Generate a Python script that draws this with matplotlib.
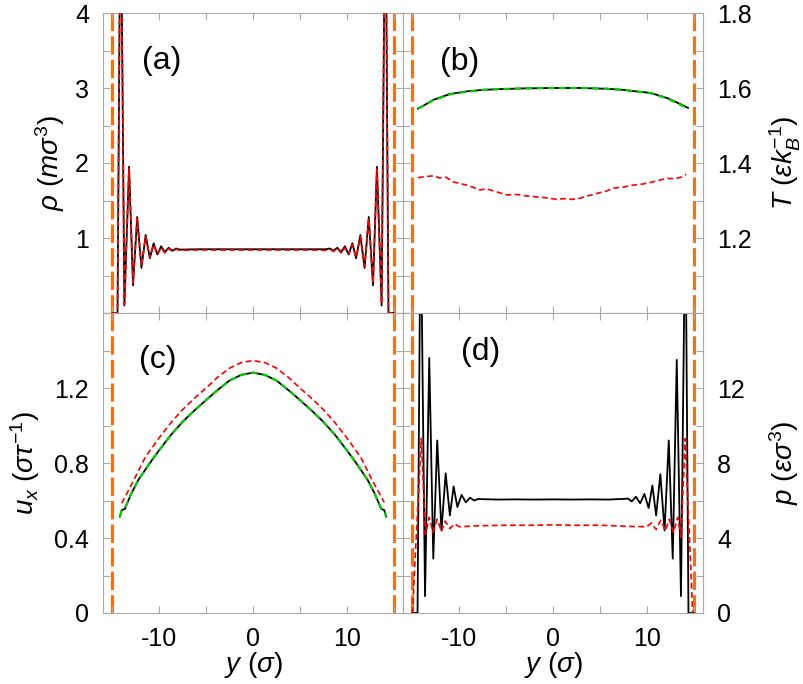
import numpy as np
import matplotlib.pyplot as plt

plt.rcParams['font.family'] = 'Liberation Sans'
plt.rcParams['mathtext.fontset'] = 'custom'
plt.rcParams['mathtext.rm'] = 'Liberation Sans'
plt.rcParams['mathtext.it'] = 'Liberation Sans:italic'
plt.rcParams['axes.unicode_minus'] = False

# wall positions (sigma)
walls = [-15.0, 15.0]

# (a) density
rho_y = [-15.0, -14.45, -14.12, -13.72, -13.22, -12.8, -12.35, -11.9, -11.45, -11.0,
         -10.6, -10.2, -9.8, -9.4, -9.0, -8.6, -8.2, -7.8, -6.0, -4.0, -2.0, 0.0,
         2.0, 4.0, 6.0, 7.8, 8.2, 8.6, 9.0, 9.4, 9.8, 10.2, 10.6, 11.0, 11.45,
         11.9, 12.35, 12.8, 13.22, 13.72, 14.12, 14.45, 15.0]
rho_md = [0.0, 0.0, 6.0, 0.10, 1.95, 0.37, 1.28, 0.60, 1.04, 0.73,
          0.93, 0.78, 0.89, 0.81, 0.87, 0.83, 0.86, 0.845, 0.85, 0.85, 0.85, 0.85,
          0.85, 0.85, 0.85, 0.85, 0.86, 0.83, 0.87, 0.81, 0.89, 0.78, 0.93, 0.73, 1.04,
          0.60, 1.28, 0.37, 1.95, 0.10, 6.0, 0.0, 0.0]
rho_sim = [0.0, 0.0, 6.0, 0.12, 1.92, 0.40, 1.26, 0.62, 1.02, 0.74,
           0.91, 0.78, 0.87, 0.80, 0.86, 0.82, 0.85, 0.835, 0.84, 0.84, 0.84, 0.84,
           0.84, 0.84, 0.84, 0.835, 0.85, 0.82, 0.86, 0.80, 0.87, 0.78, 0.91, 0.74, 1.02,
           0.62, 1.26, 0.40, 1.92, 0.12, 6.0, 0.0, 0.0]

# (b) temperature
T_y = [-14.4, -13.6, -12.8, -11.0, -9.2, -7.5, -5.7, -3.0, 0.0, 3.0, 5.7, 7.5, 9.2,
       10.4, 12.2, 13.6, 14.4]
T_md = [1.545, 1.556, 1.568, 1.584, 1.591, 1.595, 1.597, 1.599, 1.600, 1.600, 1.598,
        1.595, 1.590, 1.587, 1.573, 1.557, 1.547]
T_th = [1.545, 1.555, 1.567, 1.583, 1.590, 1.595, 1.597, 1.599, 1.600, 1.600, 1.598,
        1.595, 1.590, 1.586, 1.572, 1.555, 1.545]
Tsim_y = [-14.4, -13.5, -12.7, -12.1, -11.4, -10.7, -9.9, -9.2, -8.5, -7.8, -7.1, -6.4,
          -5.6, -4.9, -3.8, -2.8, -1.9, -1.0, 0.4, 1.2, 2.1, 2.9, 3.6, 4.3, 5.0, 5.7,
          6.4, 7.4, 8.5, 9.6, 10.7, 11.5, 12.2, 13.0, 13.8, 14.2]
Tsim = [1.361, 1.364, 1.366, 1.360, 1.362, 1.350, 1.345, 1.341, 1.335, 1.328, 1.331, 1.326,
        1.320, 1.315, 1.316, 1.312, 1.310, 1.308, 1.303, 1.305, 1.303, 1.306, 1.312, 1.316,
        1.321, 1.325, 1.333, 1.335, 1.341, 1.344, 1.350, 1.355, 1.359, 1.358, 1.363, 1.370]

# (c) streaming velocity
u_y = [-14.2, -14.0, -13.66, -13.5, -12.95, -12.24, -11.0, -10.0, -8.75, -7.5, -6.25,
       -5.0, -3.75, -2.5, -1.25, 0.0, 1.25, 2.5, 3.75, 5.0, 6.25, 7.5, 8.75, 10.0, 11.0,
       12.24, 12.95, 13.5, 13.66, 14.0, 14.2]
u_md = [0.514, 0.549, 0.555, 0.576, 0.640, 0.709, 0.800, 0.869, 0.950, 1.020, 1.080,
        1.136, 1.190, 1.240, 1.270, 1.282, 1.270, 1.240, 1.190, 1.136, 1.080, 1.020, 0.950,
        0.869, 0.800, 0.709, 0.640, 0.576, 0.555, 0.549, 0.514]
u_th = [0.514, 0.546, 0.560, 0.578, 0.640, 0.709, 0.800, 0.869, 0.950, 1.020, 1.080,
        1.136, 1.190, 1.240, 1.270, 1.282, 1.270, 1.240, 1.190, 1.136, 1.080, 1.020, 0.950,
        0.869, 0.800, 0.709, 0.640, 0.578, 0.560, 0.546, 0.514]
usim_y = [-14.0, -12.8, -11.5, -10.0, -8.75, -7.5, -6.25, -5.0, -3.75, -2.5, -1.25, 0.0,
          1.25, 2.5, 3.75, 5.0, 6.25, 7.5, 8.75, 10.0, 11.5, 12.8, 14.0]
usim = [0.585, 0.700, 0.830, 0.935, 1.015, 1.085, 1.145, 1.200, 1.258, 1.306, 1.336, 1.346,
        1.336, 1.306, 1.258, 1.200, 1.145, 1.085, 1.015, 0.935, 0.830, 0.700, 0.590]

# (d) pressure
p_y = [-15.0, -14.45, -14.12, -13.65, -13.2, -12.77, -12.35, -11.9, -11.45, -11.0, -10.6,
       -10.2, -9.75, -9.3, -8.85, -8.4, -8.0, -6.0, -4.0, -2.0, 0.0, 2.0, 4.0, 6.0, 8.0,
       8.4, 8.85, 9.3, 9.75, 10.2, 10.6, 11.0, 11.45, 11.9, 12.35, 12.77, 13.2, 13.65,
       14.12, 14.45, 15.0]
p_md = [0.0, 0.0, 22.0, 0.9, 13.6, 2.9, 9.2, 4.4, 7.45, 5.2, 6.75,
        5.65, 6.3, 5.9, 6.15, 6.0, 6.08, 6.05, 6.06, 6.05, 6.06, 6.05, 6.06, 6.05, 6.1,
        5.95, 6.2, 5.85, 6.35, 5.6, 6.8, 5.2, 7.4, 4.4, 9.2, 2.9, 13.5, 0.9,
        22.0, 0.0, 0.0]
psim_y = [-15.0, -14.05, -13.6, -13.2, -12.8, -12.35, -11.9, -11.5, -11.0, -10.5, -10.0,
          -8.0, -5.0, -2.0, 0.0, 2.0, 5.0, 8.0, 10.0, 10.5, 11.0, 11.5, 12.0, 12.4,
          12.85, 13.3, 13.65, 14.1, 14.9]
psim = [0.0, 9.3, 4.2, 5.1, 4.3, 5.0, 4.35, 4.9, 4.5, 4.75, 4.6,
        4.65, 4.68, 4.68, 4.70, 4.68, 4.68, 4.62, 4.6, 4.8, 4.45, 4.95, 4.4, 5.0,
        4.3, 5.1, 4.05, 9.3, 0.0]


def style_axes(ax, ylim, yticks, yticklabels, yminor, right=False, bottom=False):
    ax.set_xlim(-16, 16)
    ax.set_ylim(*ylim)
    ax.set_xticks([-10, 0, 10])
    ax.set_xticklabels(['-10', '0', '10'])
    ax.set_xticks([-15, -5, 5, 15], minor=True)
    ax.set_yticks(yticks)
    ax.set_yticklabels(yticklabels)
    ax.set_yticks(yminor, minor=True)
    ax.tick_params(which='both', direction='in', top=True, bottom=True, left=True,
                   right=True, length=5, width=0.8, color='#a9a9a9', labelsize=18, pad=10)
    ax.tick_params(labelbottom=bottom, labelleft=not right, labelright=right)
    for sp in ax.spines.values():
        sp.set_color('#a9a9a9')
        sp.set_linewidth(0.8)
    for w in walls:
        ax.axvline(w, color='#fa6e14', lw=2.2, dashes=(6, 1.7), zorder=1)


fig = plt.figure(figsize=(8.04, 6.84), dpi=100)
w, h = 300 / 804, 300 / 684
ax_a = fig.add_axes([103 / 804, 1 - 313 / 684, w, h])
ax_b = fig.add_axes([403 / 804, 1 - 313 / 684, w, h])
ax_c = fig.add_axes([103 / 804, 1 - 613 / 684, w, h])
ax_d = fig.add_axes([403 / 804, 1 - 613 / 684, w, h])

red = dict(color='red', lw=1.2, dashes=(3.5, 2.0), zorder=3)
green = dict(color='#00d000', lw=1.6, dashes=(3.0, 2.0), zorder=3)
black = dict(color='black', lw=1.3, zorder=2)
lab = 20

# (a)
style_axes(ax_a, (0, 4), [1, 2, 3, 4], ['1', '2', '3', '4'], np.arange(0, 4.01, 0.5))
ax_a.plot(rho_y, rho_md, **black)
ax_a.plot(rho_y, rho_sim, **red)
ax_a.set_ylabel(r'$\rho$ $(m\sigma^3)$', fontsize=lab)
ax_a.yaxis.set_label_coords(-0.12, 0.5)
ax_a.text(0.195, 0.84, '(a)', transform=ax_a.transAxes, fontsize=23, ha='center', va='center')

# (b)
style_axes(ax_b, (1.0, 1.8), [1.2, 1.4, 1.6, 1.8], ['1.2', '1.4', '1.6', '1.8'],
           np.arange(1.0, 1.801, 0.1), right=True)
ax_b.plot(T_y, T_md, **black)
ax_b.plot(T_y, T_th, **green)
ax_b.plot(Tsim_y, Tsim, **red)
ax_b.yaxis.set_label_position('right')
ax_b.set_ylabel(r'$T$ $(\varepsilon k_B^{-1})$', fontsize=lab)
ax_b.yaxis.set_label_coords(1.215, 0.5)
ax_b.text(0.19, 0.837, '(b)', transform=ax_b.transAxes, fontsize=23, ha='center', va='center')

# (c)
style_axes(ax_c, (0, 1.6), [0, 0.4, 0.8, 1.2], ['0', '0.4', '0.8', '1.2'],
           np.arange(0, 1.601, 0.2), bottom=True)
ax_c.plot(u_y, u_md, **black)
ax_c.plot(u_y, u_th, **green)
ax_c.plot(usim_y, usim, **red)
ax_c.set_ylabel(r'$u_x$ $(\sigma\tau^{-1})$', fontsize=lab)
ax_c.yaxis.set_label_coords(-0.205, 0.5)
ax_c.set_xlabel(r'$y$ $(\sigma)$', fontsize=lab)
ax_c.xaxis.set_label_coords(0.5, -0.125)
ax_c.text(0.183, 0.843, '(c)', transform=ax_c.transAxes, fontsize=23, ha='center', va='center')

# (d)
style_axes(ax_d, (0, 16), [0, 4, 8, 12], ['0', '4', '8', '12'],
           np.arange(0, 16.01, 2), right=True, bottom=True)
ax_d.plot(p_y, p_md, **black)
ax_d.plot(psim_y, psim, **red)
ax_d.yaxis.set_label_position('right')
ax_d.set_ylabel(r'$p$ $(\varepsilon\sigma^3)$', fontsize=lab)
ax_d.yaxis.set_label_coords(1.215, 0.5)
ax_d.set_xlabel(r'$y$ $(\sigma)$', fontsize=lab)
ax_d.xaxis.set_label_coords(0.5, -0.125)
ax_d.text(0.26, 0.87, '(d)', transform=ax_d.transAxes, fontsize=23, ha='center', va='center')

plt.savefig('out.png', dpi=100)
